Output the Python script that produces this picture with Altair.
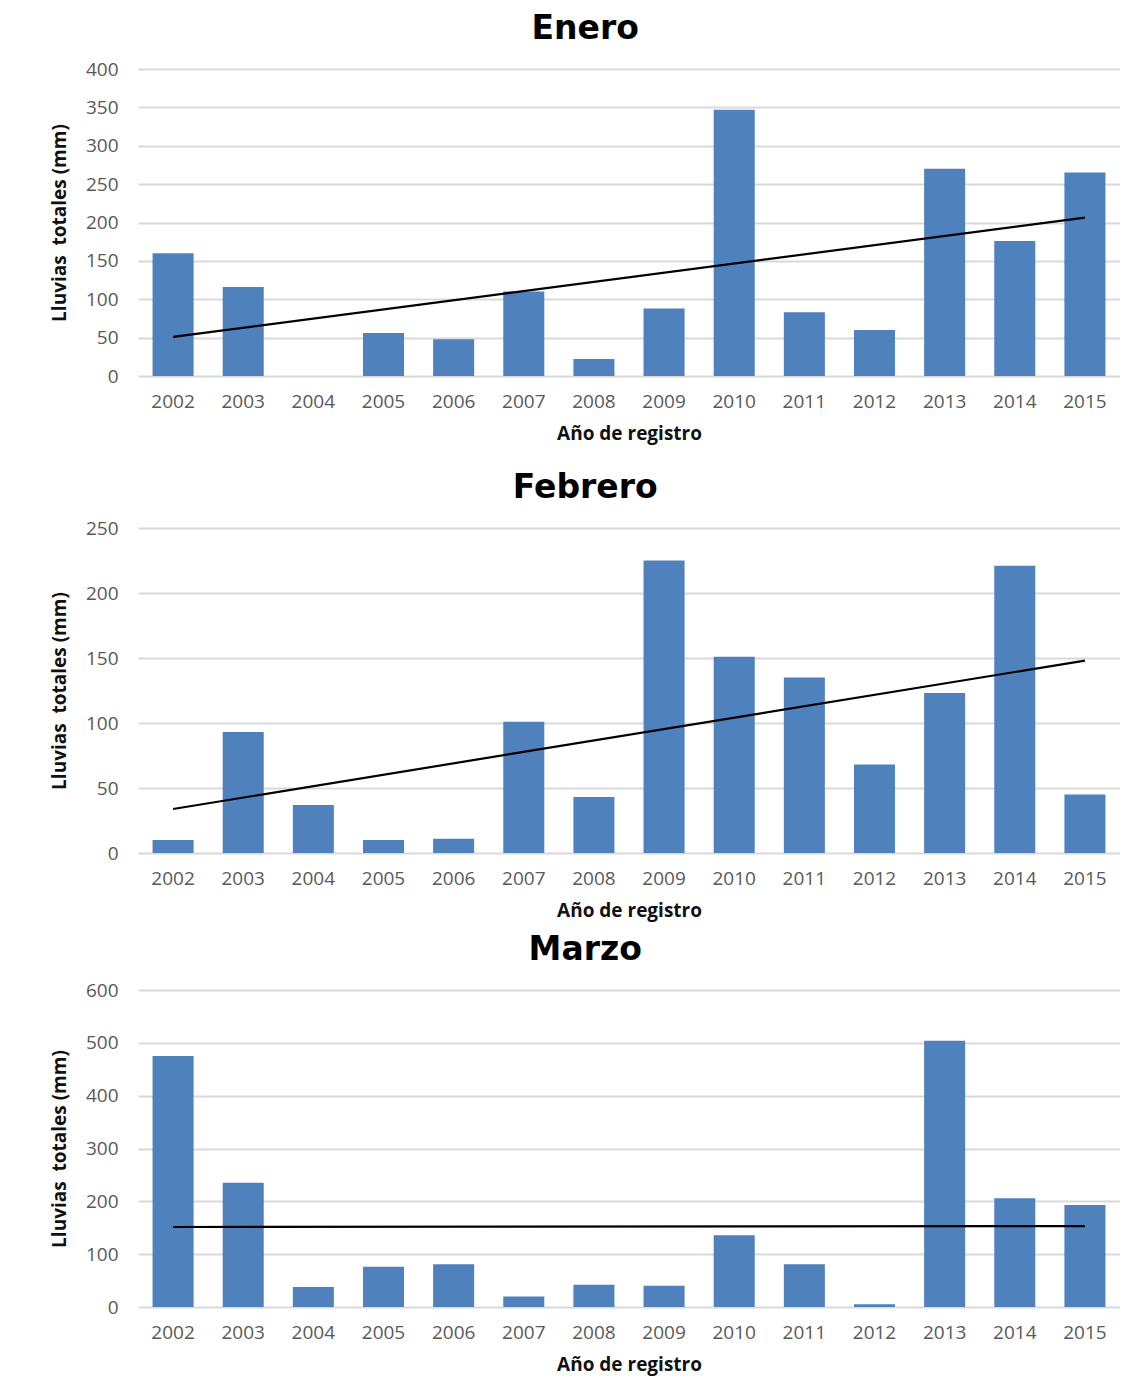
import altair as alt
import pandas as pd

years = [str(y) for y in range(2002, 2016)]
enero = [160, 116, 0, 56, 48, 110, 22, 88, 347, 83, 60, 270, 176, 265]
febrero = [10, 93, 37, 10, 11, 101, 43, 225, 151, 135, 68, 123, 221, 45]
marzo = [475, 235, 38, 76, 81, 20, 42, 40, 136, 81, 5, 504, 206, 193]

titles = ["Enero", "Febrero", "Marzo"]
y_max = [400, 250, 600]
y_step = [50, 50, 100]
heights = [307, 325, 317]

BAR = "#4F81BD"
GRID = "#D9D9D9"


def panel(title, values, ymax, step, h):
    df = pd.DataFrame({"year": years, "yr": [int(y) for y in years], "mm": values})
    base = alt.Chart(df)
    x = alt.X(
        "year:O",
        scale=alt.Scale(domain=years, paddingInner=0.415, paddingOuter=0.2075),
        axis=alt.Axis(
            title="Año de registro",
            labelAngle=0,
            labelFont="Open Sans",
            labelFontSize=19,
            labelColor="#595959",
            labelPadding=16,
            ticks=False,
            domain=False,
            grid=False,
            titleFont="Open Sans",
            titleFontSize=19,
            titleFontWeight="bold",
            titleColor="#111111",
            titlePadding=13,
        ),
    )
    y = alt.Y(
        "mm:Q",
        scale=alt.Scale(domain=[0, ymax], nice=False),
        axis=alt.Axis(
            values=list(range(0, ymax + 1, step)),
            labelOverlap=False,
            title="Lluvias\u00a0 totales (mm)",
            labelFont="Open Sans",
            labelFontSize=19,
            labelColor="#595959",
            labelPadding=20,
            ticks=False,
            domain=False,
            grid=True,
            gridColor=GRID,
            gridWidth=2,
            titleFont="Open Sans",
            titleFontSize=19,
            titleFontWeight="bold",
            titleColor="#111111",
            titlePadding=16,
        ),
    )
    bars = base.mark_bar(color=BAR).encode(x=x, y=y)
    trend = (
        base.transform_regression("yr", "mm")
        .transform_calculate(year="toString(datum.yr)")
        .mark_line(color="black", strokeWidth=2.2)
        .encode(x=x, y=y)
    )
    return alt.layer(bars, trend).properties(
        width=982,
        height=h,
        view=alt.ViewBackground(stroke="transparent", strokeWidth=0),
        title=alt.TitleParams(
            title,
            font="DejaVu Sans",
            fontSize=33,
            fontWeight="bold",
            color="#000000",
            anchor="middle",
            frame="bounds",
            offset=14,
        ),
    )


p1 = panel(titles[0], enero, y_max[0], y_step[0], heights[0])
p2 = panel(titles[1], febrero, y_max[1], y_step[1], heights[1])
p3 = panel(titles[2], marzo, y_max[2], y_step[2], heights[2])

chart = (
    alt.vconcat(p1, alt.vconcat(p2, p3, spacing=14), spacing=29)
    .properties(padding={"left": 42, "top": 5, "right": 0, "bottom": 12})
    .configure_view(strokeWidth=0, stroke="transparent")
    .configure(background="white")
)

chart.save("out.html", embed_options={"renderer": "svg", "actions": False})
